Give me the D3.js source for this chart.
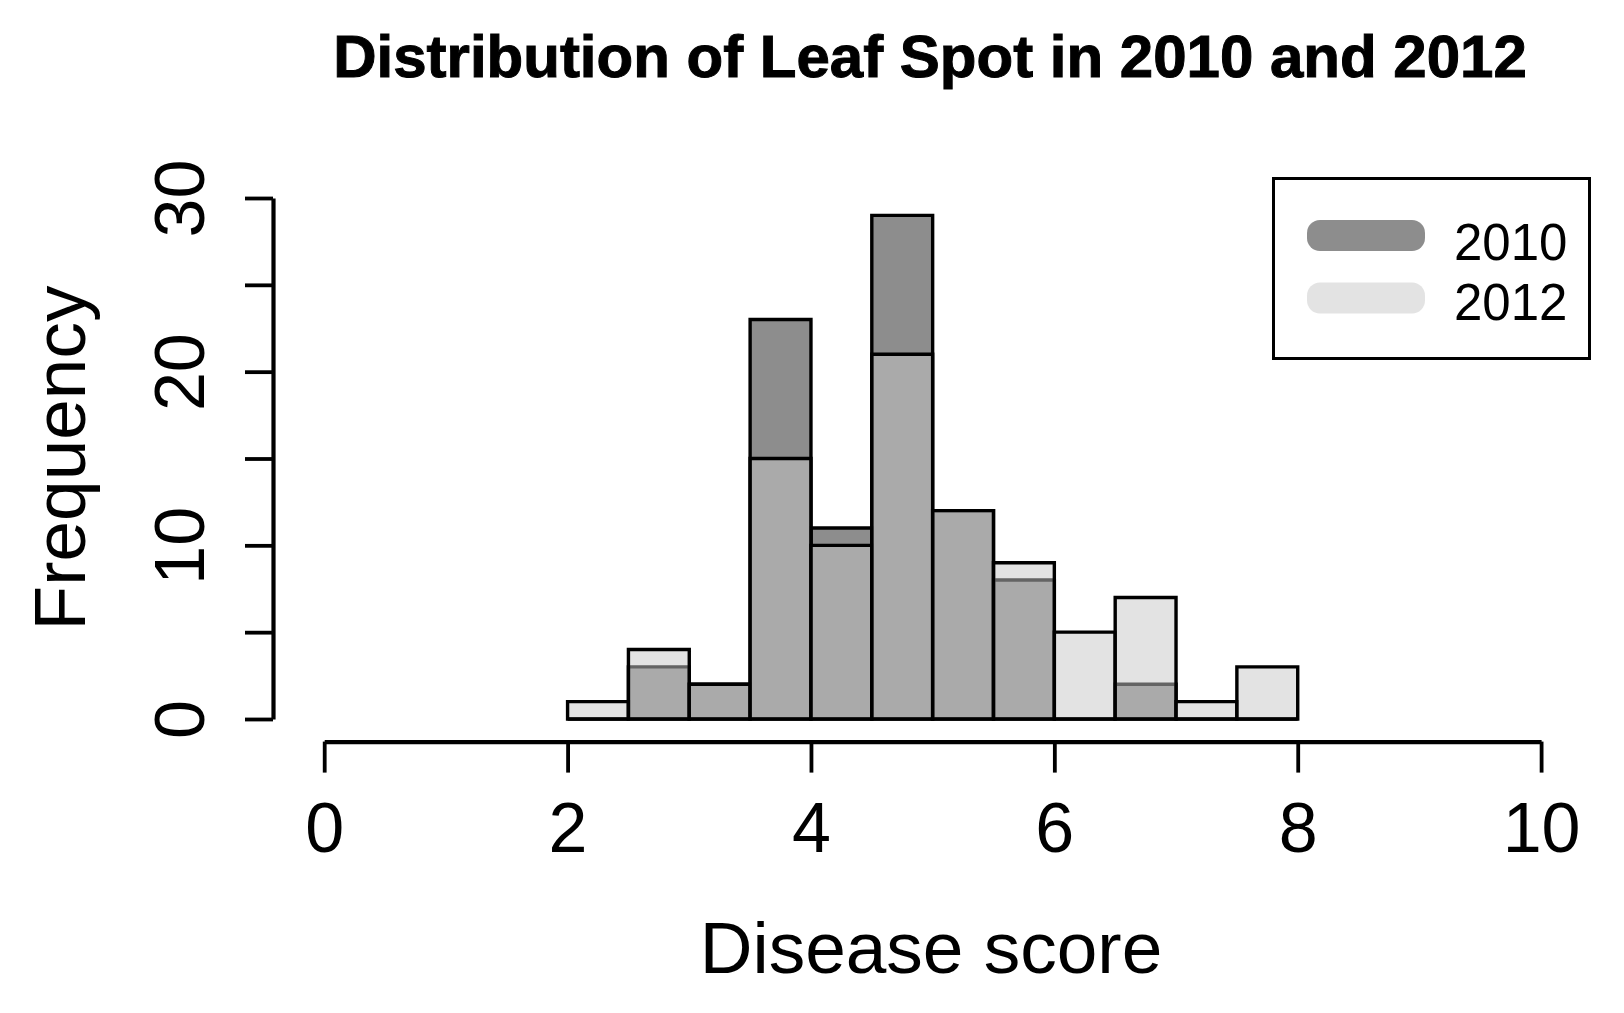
<!DOCTYPE html>
<html>
<head>
<meta charset="utf-8">
<script src="https://cdn.jsdelivr.net/npm/d3@7"></script>
<style>
  html, body { margin: 0; padding: 0; background: #fff; }
  text { font-family: "Liberation Sans", Arial, sans-serif; fill: #000; }
</style>
</head>
<body>
<svg id="chart" width="1624" height="1013"></svg>
<script>
// ---- data ----
const breaks = [2, 2.5, 3, 3.5, 4, 4.5, 5, 5.5, 6, 6.5, 7, 7.5, 8];
const counts2010 = [0, 3, 2, 23, 11, 29, 12, 8, 0, 2, 0, 0];
const counts2012 = [1, 4, 2, 15, 10, 21, 12, 9, 5, 7, 1, 3];
const seriesNames = ["2010", "2012"];
const xTicks = [0, 2, 4, 6, 8, 10];
const yTicks = [0, 5, 10, 15, 20, 25, 30];
const yLabelTicks = [0, 10, 20, 30];
const titleText = "Distribution of Leaf Spot in 2010 and 2012";
const xLabel = "Disease score";
const yLabel = "Frequency";

// ---- styles ----
const fill2010 = "rgba(28,28,28,0.5)";
const fill2012 = "rgba(200,200,200,0.5)";

const svg = d3.select("#chart");
const x = d3.scaleLinear().domain([0, 10]).range([324.2, 1541.1]);
const y = d3.scaleLinear().domain([0, 30]).range([719, 198]);

function drawHist(counts, fill) {
  const bins = counts.map((c, i) => ({ x0: breaks[i], x1: breaks[i + 1], c }));
  svg.append("g").selectAll("path").data(bins).join("path")
    .attr("d", d => `M${x(d.x0)},${y(0)}V${y(d.c)}H${x(d.x1)}V${y(0)}Z`)
    .attr("fill", fill)
    .attr("stroke", "#000")
    .attr("stroke-width", 3.4)
    .attr("stroke-linejoin", "miter");
}
drawHist(counts2010, fill2010);
drawHist(counts2012, fill2012);

// ---- x axis ----
const xAxisY = 741.6;
const gx = svg.append("g").attr("transform", `translate(0,${xAxisY})`)
  .call(d3.axisBottom(x).tickValues(xTicks).tickSize(31).tickSizeOuter(0).tickPadding(0).tickFormat(d3.format("d")));
gx.select(".domain").attr("stroke", "#000").attr("stroke-width", 4.2);
gx.selectAll(".tick line").attr("stroke", "#000").attr("stroke-width", 3.8);
gx.selectAll(".tick text")
  .attr("y", 110).attr("dy", null)
  .attr("font-size", 70)
  .attr("font-family", "Liberation Sans, Arial, sans-serif")
  .attr("fill", "#000");

// ---- y axis ----
const yAxisX = 273;
const gy = svg.append("g").attr("transform", `translate(${yAxisX},0)`)
  .call(d3.axisLeft(y).tickValues(yTicks).tickSize(28).tickSizeOuter(0).tickFormat(d => yLabelTicks.includes(d) ? d : ""));
gy.select(".domain").attr("stroke", "#000").attr("stroke-width", 4.2);
gy.selectAll(".tick line").attr("stroke", "#000").attr("stroke-width", 3.8);
gy.selectAll(".tick text")
  .attr("x", null).attr("dy", null)
  .attr("transform", `translate(-69,0) rotate(-90)`)
  .attr("text-anchor", "middle")
  .attr("font-size", 70)
  .attr("font-family", "Liberation Sans, Arial, sans-serif")
  .attr("fill", "#000");

// ---- title & labels ----
svg.append("text")
  .attr("x", 930).attr("y", 77)
  .attr("text-anchor", "middle")
  .attr("font-size", 60).attr("font-weight", "bold")
  .attr("stroke", "#000").attr("stroke-width", 1)
  .text(titleText);

svg.append("text")
  .attr("x", 931).attr("y", 973)
  .attr("text-anchor", "middle")
  .attr("font-size", 73)
  .text(xLabel);

svg.append("text")
  .attr("transform", "translate(85,458) rotate(-90)")
  .attr("text-anchor", "middle")
  .attr("font-size", 73)
  .text(yLabel);

// ---- legend ----
const lg = svg.append("g");
lg.append("rect")
  .attr("x", 1273.5).attr("y", 178.5).attr("width", 316).attr("height", 180)
  .attr("fill", "#fff").attr("stroke", "#000").attr("stroke-width", 3);
const legendItems = [
  { name: seriesNames[0], fill: fill2010, cy: 235.5, base: 260 },
  { name: seriesNames[1], fill: fill2012, cy: 298, base: 320 }
];
legendItems.forEach(d => {
  lg.append("rect")
    .attr("x", 1307).attr("y", d.cy - 15.5).attr("width", 118).attr("height", 31)
    .attr("rx", 13).attr("ry", 13)
    .attr("fill", d.fill);
  lg.append("text")
    .attr("x", 1454).attr("y", d.base)
    .attr("font-size", 51)
    .text(d.name);
});
</script>
</body>
</html>
